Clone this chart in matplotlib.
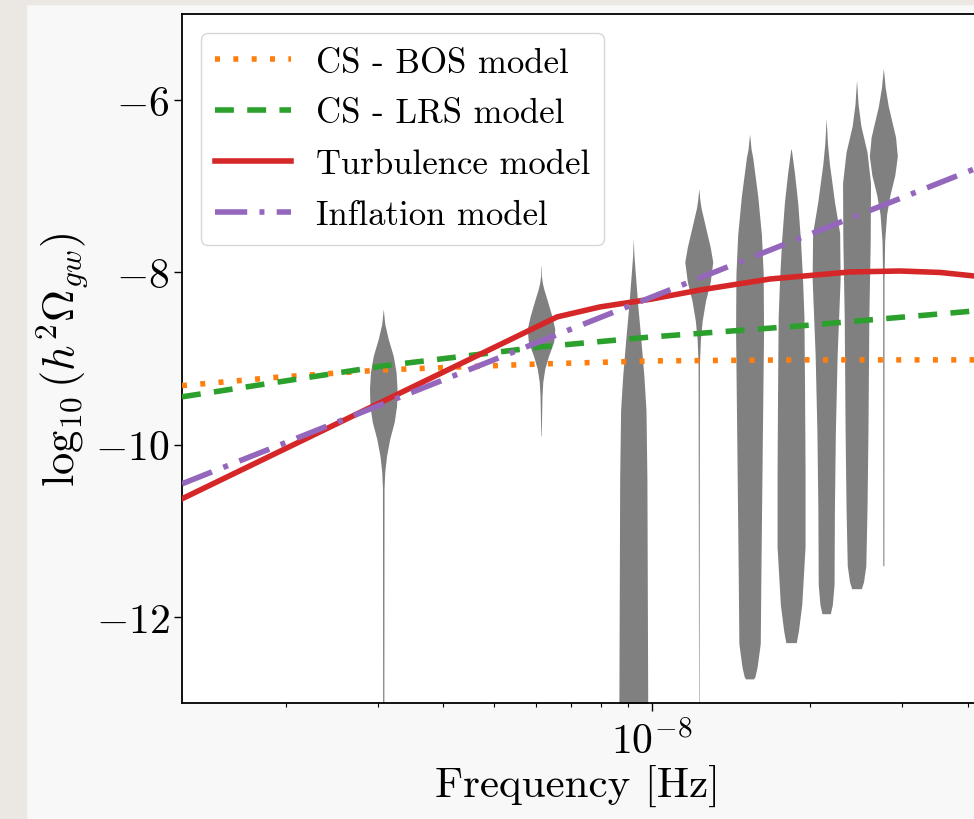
import matplotlib
matplotlib.use("Agg")
import matplotlib.pyplot as plt
from matplotlib.patches import Rectangle
from matplotlib.ticker import NullFormatter, LogLocator
import numpy as np

plt.rcParams['font.family'] = 'cmr10'
plt.rcParams['mathtext.fontset'] = 'cm'
plt.rcParams['axes.formatter.use_mathtext'] = True

# violin positions (Hz) and their shapes: y = log10(h^2 Omega), w = half width in decades
violin_freqs = [3.07e-9, 6.14e-9, 9.21e-9, 1.228e-8, 1.535e-8, 1.842e-8, 2.149e-8, 2.456e-8, 2.763e-8]

violin_y = [
    [-8.425, -8.599, -8.773, -8.970, -9.155, -9.353, -9.550, -9.735, -9.933, -10.13, -10.316, -10.51, -13.5],
    [-7.926, -8.042, -8.120, -8.193, -8.343, -8.506, -8.657, -8.807, -8.970, -9.121, -9.271, -9.434, -9.898],
    [-7.601, -7.800, -7.995, -8.401, -8.796, -9.202, -9.596, -10.397, -11.603, -12.995, -13.5],
    [-7.027, -7.150, -7.253, -7.473, -7.705, -7.879, -8.111, -8.332, -8.564, -8.784, -9.063, -13.5],
    [-6.394, -6.568, -6.661, -7.114, -7.566, -8.019, -8.691, -10.049, -11.406, -12.311, -12.578, -12.694, -12.72],
    [-6.57, -6.835, -7.183, -7.636, -8.077, -8.517, -9.411, -10.292, -11.186, -11.858, -12.160, -12.299],
    [-6.209, -6.500, -6.742, -7.183, -7.543, -8.077, -8.958, -9.852, -10.745, -11.626, -11.858, -11.963],
    [-5.768, -6.050, -6.302, -6.603, -6.963, -7.636, -8.517, -9.852, -10.745, -11.406, -11.592, -11.673],
    [-5.629, -5.850, -6.070, -6.429, -6.650, -6.870, -7.102, -7.323, -7.636, -8.077, -11.406],
]
violin_w = [
    [0, 0.0029, 0.0095, 0.0191, 0.0244, 0.0263, 0.0254, 0.0210, 0.0124, 0.0063, 0.0029, 0.0015, 0.0011],
    [0.0003, 0.0008, 0.0025, 0.0053, 0.0128, 0.0206, 0.0263, 0.0242, 0.0143, 0.0071, 0.0034, 0.0019, 0.0004],
    [0, 0.0012, 0.0036, 0.0088, 0.0147, 0.0202, 0.0242, 0.0260, 0.0267, 0.0275, 0.0275],
    [0, 0.0019, 0.0044, 0.0128, 0.0218, 0.0267, 0.0218, 0.0128, 0.0065, 0.0031, 0.0013, 0.0003],
    [0, 0.0029, 0.0059, 0.0156, 0.0227, 0.0260, 0.0267, 0.0242, 0.0218, 0.0204, 0.0145, 0.0103, 0.0076],
    [0.0005, 0.0063, 0.0126, 0.0181, 0.0219, 0.0246, 0.0258, 0.0267, 0.0267, 0.0204, 0.0141, 0.0100],
    [0, 0.0025, 0.0063, 0.0160, 0.0258, 0.0267, 0.0210, 0.0176, 0.0158, 0.0151, 0.0118, 0.0080],
    [0, 0.0030, 0.0084, 0.0200, 0.0267, 0.0261, 0.0235, 0.0218, 0.0200, 0.0177, 0.0134, 0.0092],
    [0, 0.0035, 0.0094, 0.0233, 0.0267, 0.0219, 0.0126, 0.0063, 0.0025, 0.0013, 0.0010],
]

# model curves
cs_freq = [1.268e-9, 1.95e-9, 3.07e-9, 6.14e-9, 1.0e-8, 1.914e-8, 4.12e-8]
bos_vals = [-9.315, -9.215, -9.132, -9.063, -9.028, -9.016, -9.016]
lrs_vals = [-9.445, -9.27, -9.086, -8.865, -8.749, -8.622, -8.448]

turb_freq = [1.268e-9, 6.59e-9, 7.96e-9, 1.0e-8, 1.236e-8, 1.679e-8, 2.388e-8, 2.972e-8, 3.548e-8, 4.12e-8]
turb_vals = [-10.629, -8.517, -8.401, -8.309, -8.204, -8.077, -7.995, -7.984, -8.001, -8.042]

infl_freq = [1.268e-9, 1.0e-8, 4.12e-8]
infl_vals = [-10.455, -8.285, -6.800]

fig = plt.figure(figsize=(9.74, 8.2), dpi=100, facecolor='#f8f8f8')
fig.patches.append(Rectangle((0, 0), 26 / 974, 1, transform=fig.transFigure,
                             color='#ebe8e3', zorder=0))
fig.patches.append(Rectangle((0, 1 - 5 / 820), 1, 5 / 820, transform=fig.transFigure,
                             color='#ebe8e3', zorder=0))

ax = fig.add_axes([182 / 974, 116 / 820, 1 - 182 / 974, 689 / 820])
ax.set_facecolor('white')
ax.set_xscale('log')

for f, ys, ws in zip(violin_freqs, violin_y, violin_w):
    ys = np.array(ys)
    ws = np.array(ws)
    ax.fill_betweenx(ys, f * 10 ** (-ws), f * 10 ** ws, color='#808080', lw=0, zorder=2)

lw = 4.0
ax.plot(cs_freq, bos_vals, color='#ff7f0e', lw=lw, linestyle=(0, (0.9, 2.4)), label='CS - BOS model', zorder=3)
ax.plot(cs_freq, lrs_vals, color='#2ca02c', lw=lw, linestyle=(0, (3.4, 2.4)), label='CS - LRS model', zorder=3)
ax.plot(turb_freq, turb_vals, color='#d62728', lw=lw, label='Turbulence model', zorder=3)
ax.plot(infl_freq, infl_vals, color='#9467bd', lw=lw, linestyle=(0, (5.8, 2.2, 0.9, 2.2)),
        label='Inflation model', zorder=3)

ax.set_xlim(1.268e-9, 4.115e-8)
ax.set_ylim(-13, -5)

ax.set_xticks([1e-8])
ax.set_xticklabels([r'$10^{-8}$'])
ax.xaxis.set_minor_locator(LogLocator(base=10, subs=np.arange(2, 10)))
ax.xaxis.set_minor_formatter(NullFormatter())
ax.set_yticks([-12, -10, -8, -6])
ax.set_yticklabels([r'$-12$', r'$-10$', r'$-8$', r'$-6$'])
ax.tick_params(which='major', labelsize=30, length=5.5, width=1.0)
ax.tick_params(axis='x', which='major', pad=7)
ax.tick_params(which='minor', length=3, width=0.8)

ax.spines['right'].set_visible(False)
for side in ['left', 'top', 'bottom']:
    ax.spines[side].set_linewidth(1.3)

ax.set_xlabel('Frequency [Hz]', fontsize=31, labelpad=2)
ax.set_ylabel(r'$\log_{10}(h^2\Omega_{gw})$', fontsize=32)

ax.legend(loc='upper left', fontsize=25, handlelength=2.2, handletextpad=0.7,
          labelspacing=0.55, borderaxespad=0.55, framealpha=0.8, edgecolor='#cccccc')

fig.savefig('out.png', dpi=100, facecolor=fig.get_facecolor())
